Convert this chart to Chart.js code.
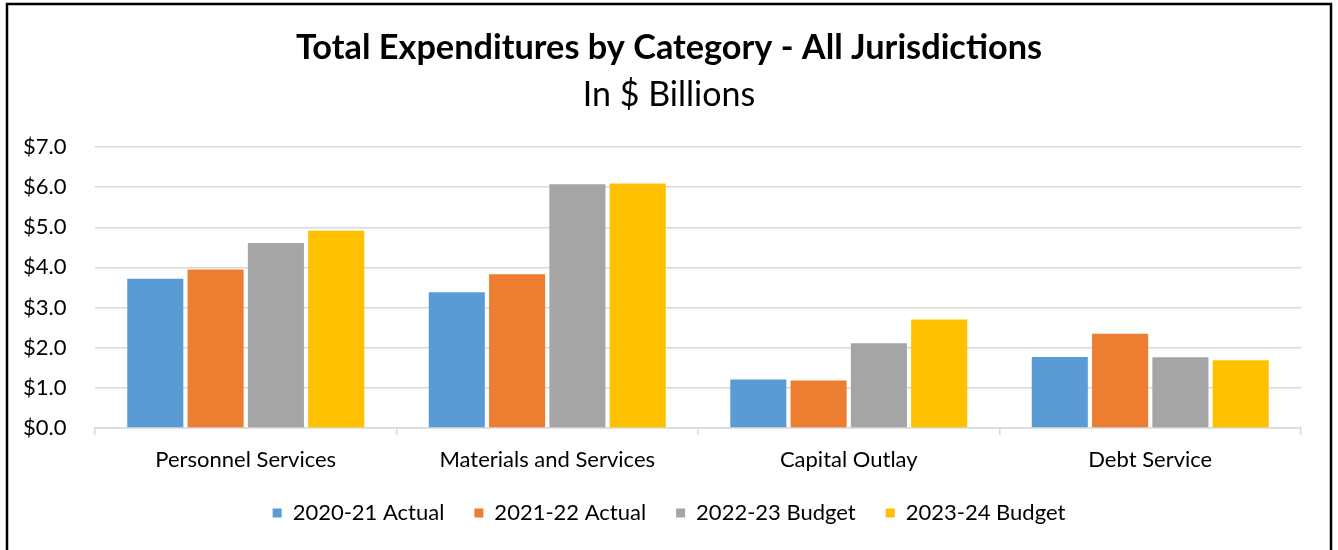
<!DOCTYPE html>
<html>
<head>
<meta charset="utf-8">
<script src="https://cdn.jsdelivr.net/npm/chart.js@4.4.1/dist/chart.umd.min.js"></script>
<style>
  html, body { margin: 0; padding: 0; background: #fff; }
  #wrap { position: relative; width: 1338px; height: 550px; }
  canvas { display: block; }
</style>
</head>
<body>
<div id="wrap"><canvas id="chart" width="1338" height="550"></canvas></div>
<script>
// Expenditure categories and yearly totals (in $ billions)
const categories = ['Personnel Services', 'Materials and Services', 'Capital Outlay', 'Debt Service'];
const seriesNames = ['2020-21 Actual', '2021-22 Actual', '2022-23 Budget', '2023-24 Budget'];
const actual2021 = [3.72, 3.38, 1.21, 1.77];
const actual2122 = [3.95, 3.83, 1.18, 2.35];
const budget2223 = [4.61, 6.07, 2.11, 1.76];
const budget2324 = [4.91, 6.09, 2.70, 1.69];
const seriesColors = ['#5B9BD5', '#ED7D31', '#A5A5A5', '#FFC000'];
const yTicks = [0, 1, 2, 3, 4, 5, 6, 7];

const FONT = 'Lato, "Open Sans", sans-serif';
const seriesValues = [actual2021, actual2122, budget2223, budget2324];

// Black frame around the chart (left, top, right edges)
const framePlugin = {
  id: 'frame',
  afterDraw(chart) {
    const ctx = chart.ctx;
    ctx.save();
    ctx.strokeStyle = '#000';
    ctx.lineWidth = 2.5;
    ctx.beginPath();
    ctx.moveTo(7, 560);
    ctx.lineTo(7, 4);
    ctx.lineTo(1331, 4);
    ctx.lineTo(1331, 560);
    ctx.stroke();
    ctx.restore();
  }
};

new Chart(document.getElementById('chart'), {
  type: 'bar',
  data: {
    labels: categories,
    datasets: seriesNames.map((name, i) => ({
      label: name,
      data: seriesValues[i],
      backgroundColor: seriesColors[i],
      borderWidth: 0,
      categoryPercentage: 0.8,
      barPercentage: 0.93
    }))
  },
  options: {
    responsive: false,
    animation: false,
    layout: { padding: { left: 37, right: 37, top: 27, bottom: 16 } },
    plugins: {
      title: {
        display: true,
        text: 'Total Expenditures by Category - All Jurisdictions',
        color: '#000',
        font: { family: FONT, size: 34.3, weight: 'bold' },
        padding: { top: 0, bottom: 6 }
      },
      subtitle: {
        display: true,
        text: 'In $ Billions',
        color: '#000',
        font: { family: FONT, size: 34, weight: 'normal' },
        padding: { top: 0, bottom: 32 }
      },
      legend: {
        position: 'bottom',
        labels: {
          color: '#000',
          font: { family: FONT, size: 22 },
          boxWidth: 9,
          boxHeight: 9,
          padding: 30
        }
      },
      tooltip: { enabled: false }
    },
    scales: {
      x: {
        afterFit(scale) { scale.height = 44; },
        grid: {
          display: true,
          drawOnChartArea: false,
          drawTicks: true,
          tickLength: 7,
          color: '#D9D9D9',
          lineWidth: 1.5,
          offset: true
        },
        border: { color: '#D9D9D9', width: 1.5 },
        ticks: {
          color: '#000',
          font: { family: FONT, size: 22 },
          padding: 12
        }
      },
      y: {
        min: 0,
        max: 7,
        afterFit(scale) { scale.width = 58; },
        afterBuildTicks(scale) {
          scale.ticks = yTicks.map(v => ({ value: v }));
        },
        grid: {
          color: '#D9D9D9',
          lineWidth: 1.5,
          drawTicks: false
        },
        border: { display: false },
        ticks: {
          color: '#000',
          font: { family: FONT, size: 22 },
          mirror: true,
          padding: -72,
          callback: v => '$' + Number(v).toFixed(1)
        }
      }
    }
  },
  plugins: [framePlugin]
});
</script>
</body>
</html>
